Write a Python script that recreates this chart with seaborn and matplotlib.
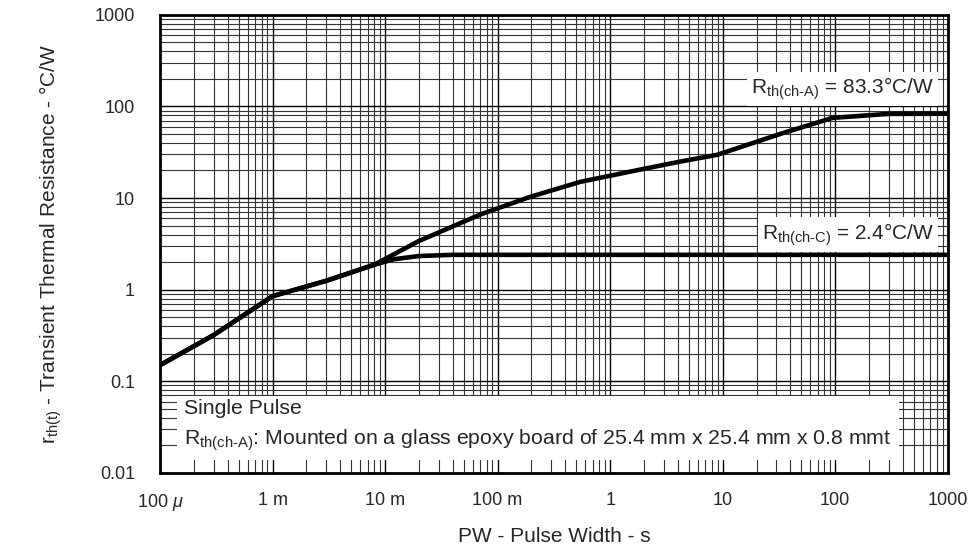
import numpy as np
import pandas as pd
import matplotlib
matplotlib.use('Agg')
import matplotlib.pyplot as plt
import seaborn as sns
from matplotlib.ticker import LogLocator, FixedLocator, NullFormatter

# ---- data ----
pw_ch_a = [1e-4, 3e-4, 1e-3, 3e-3, 8e-3, 0.02, 0.07, 0.19, 0.54, 1.5, 4.2, 9, 34, 95, 300, 1000]
rth_ch_a = [0.15, 0.32, 0.85, 1.25, 1.87, 3.4, 6.6, 10.2, 15, 19.4, 25, 29.7, 51, 75, 83, 83.3]

pw_ch_c = [1e-4, 3e-4, 1e-3, 3e-3, 8e-3, 0.012, 0.02, 0.04, 0.1, 1000]
rth_ch_c = [0.15, 0.32, 0.85, 1.25, 1.87, 2.15, 2.33, 2.4, 2.4, 2.4]

x_ticks = [1e-4, 1e-3, 1e-2, 1e-1, 1, 10, 100, 1000]
x_tick_labels = ['100 $\\mu$', '1 m', '10 m', '100 m', '1', '10', '100', '1000']
y_ticks = [0.01, 0.1, 1, 10, 100, 1000]
y_tick_labels = ['0.01', '0.1', '1', '10', '100', '1000']

df = pd.concat([
    pd.DataFrame({'pw': pw_ch_a, 'rth': rth_ch_a, 'curve': 'ch-A'}),
    pd.DataFrame({'pw': pw_ch_c, 'rth': rth_ch_c, 'curve': 'ch-C'}),
])

# ---- style ----
sns.set_style('white')
plt.rcParams['font.family'] = ['Liberation Sans', 'DejaVu Sans']
plt.rcParams['mathtext.fontset'] = 'custom'
plt.rcParams['mathtext.rm'] = 'Liberation Sans'
plt.rcParams['mathtext.it'] = 'Liberation Sans:italic'
plt.rcParams['mathtext.bf'] = 'Liberation Sans:bold'

fig = plt.figure(figsize=(9.7, 5.48), dpi=100)
ax = fig.add_axes([0.165, 0.137, 0.812, 0.836])

sns.lineplot(data=df, x='pw', y='rth', units='curve', estimator=None,
             color='black', linewidth=3.3, sort=False, ax=ax, legend=False)

ax.set_xscale('log')
ax.set_yscale('log')
ax.set_xlim(1e-4, 1000)
ax.set_ylim(0.01, 1000)

ax.xaxis.set_major_locator(FixedLocator(x_ticks))
ax.set_xticklabels(x_tick_labels)
ax.yaxis.set_major_locator(FixedLocator(y_ticks))
ax.set_yticklabels(y_tick_labels)
ax.xaxis.set_minor_locator(LogLocator(base=10, subs=np.arange(2, 10), numticks=20))
ax.yaxis.set_minor_locator(LogLocator(base=10, subs=np.arange(2, 10), numticks=20))
ax.xaxis.set_minor_formatter(NullFormatter())
ax.yaxis.set_minor_formatter(NullFormatter())

ax.grid(True, which='major', color='black', linewidth=1.0)
ax.grid(True, which='minor', color='#333333', linewidth=0.8)
ax.set_axisbelow(True)

ax.tick_params(which='both', length=0)
ax.tick_params(axis='x', pad=14, labelsize=13)
ax.tick_params(axis='y', pad=18, labelsize=13)

for s in ax.spines.values():
    s.set_linewidth(2.0)
    s.set_color('black')

ax.set_xlabel('PW - Pulse Width - s', fontsize=15, labelpad=10)
ax.set_ylabel('r$_{\\mathrm{th(t)}}$ - Transient Thermal Resistance - °C/W',
              fontsize=15, labelpad=22)

box = dict(facecolor='white', edgecolor='none', pad=3)
ax.text(0.983, 0.838, 'R$_{\\mathrm{th(ch\\text{-}A)}}$ = 83.3°C/W', transform=ax.transAxes,
        ha='right', va='center', fontsize=15, bbox=box)
ax.text(0.983, 0.52, 'R$_{\\mathrm{th(ch\\text{-}C)}}$ = 2.4°C/W', transform=ax.transAxes,
        ha='right', va='center', fontsize=15, bbox=box)

ax.text(0.031, 0.103, 'Single Pulse\nR$_{\\mathrm{th(ch\\text{-}A)}}$: Mounted on a glass epoxy board of 25.4 mm x 25.4 mm x 0.8 mmt',
        transform=ax.transAxes, ha='left', va='center', fontsize=15.3, linespacing=1.55,
        bbox=dict(facecolor='white', edgecolor='none', pad=5))

fig.savefig('out.png', dpi=100, facecolor='white')
